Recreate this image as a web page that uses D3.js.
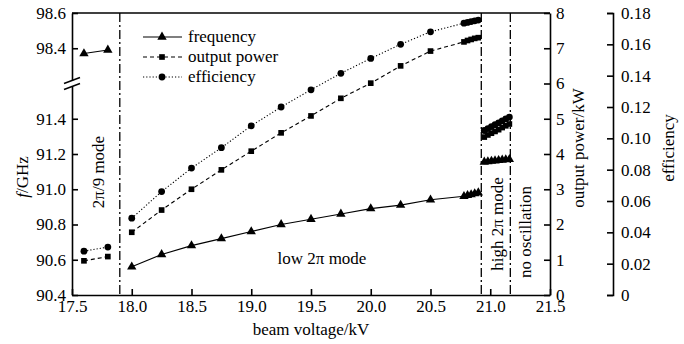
<!DOCTYPE html>
<html>
<head>
<meta charset="utf-8">
<script src="https://cdn.jsdelivr.net/npm/d3@7"></script>
<style>
  body { margin: 0; background: #fff; }
  text { font-family: "Liberation Serif", "DejaVu Serif", serif; fill: #000; }
</style>
</head>
<body>
<div id="chart"></div>
<script>
// beam voltage (kV) for each operating region
const vMode29 = [17.6, 17.8];
const vLow = [18.0, 18.25, 18.5, 18.75, 19.0, 19.25, 19.5, 19.75, 20.0, 20.25, 20.5, 20.78, 20.81, 20.84, 20.87, 20.9];
const vHigh = [20.95, 20.98, 21.01, 21.04, 21.07, 21.1, 21.13, 21.16];

// frequency (GHz)
const fMode29 = [98.37, 98.39];
const fLow = [90.56, 90.63, 90.68, 90.72, 90.76, 90.8, 90.83, 90.86, 90.89, 90.91, 90.94, 90.96, 90.965, 90.97, 90.975, 90.98];
const fHigh = [91.155, 91.157, 91.16, 91.162, 91.164, 91.166, 91.168, 91.17];

// output power (kW)
const pMode29 = [0.97, 1.09];
const pLow = [1.78, 2.41, 3.0, 3.55, 4.08, 4.6, 5.08, 5.58, 6.01, 6.5, 6.92, 7.18, 7.22, 7.25, 7.28, 7.3];
const pHigh = [4.48, 4.54, 4.59, 4.64, 4.69, 4.75, 4.8, 4.85];

// efficiency
const eMode29 = [0.028, 0.0306];
const eLow = [0.049, 0.066, 0.081, 0.094, 0.108, 0.12, 0.131, 0.1415, 0.151, 0.16, 0.168, 0.1735, 0.174, 0.1745, 0.175, 0.1755];
const eHigh = [0.105, 0.1062, 0.1075, 0.1087, 0.1099, 0.1112, 0.1124, 0.1136];

// region boundaries (kV)
const boundaries = [17.9, 20.925, 21.168];

const xTicks = [17.5, 18.0, 18.5, 19.0, 19.5, 20.0, 20.5, 21.0, 21.5];
const fTicks = [90.4, 90.6, 90.8, 91.0, 91.2, 91.4, 98.4, 98.6];
const pTicks = [0, 1, 2, 3, 4, 5, 6, 7, 8];
const eTicks = [0, 0.02, 0.04, 0.06, 0.08, 0.10, 0.12, 0.14, 0.16, 0.18];

const W = 684, H = 344;
const plotL = 72, plotR = 550, plotT = 13, plotB = 295;
const effX = 613;

const svg = d3.select('#chart').append('svg')
    .attr('width', W).attr('height', H);

const x = d3.scaleLinear().domain([17.5, 21.5]).range([plotL, plotR]);
// broken frequency axis: 91.6 and 98.2 meet at the break
const yF = d3.scaleLinear().domain([90.4, 91.6, 98.2, 98.6])
    .range([plotB, plotB - 6 * 35.25, plotB - 6 * 35.25, plotT]);
const yP = d3.scaleLinear().domain([0, 8]).range([plotB, plotT]);
const yE = d3.scaleLinear().domain([0, 0.18]).range([plotB, plotT]);

const fontSize = 17;

// region boundary lines
svg.append('g').selectAll('line')
    .data(boundaries)
    .join('line')
    .attr('x1', d => x(d)).attr('x2', d => x(d))
    .attr('y1', plotT).attr('y2', plotB)
    .attr('stroke', '#000').attr('stroke-width', 1.3)
    .attr('stroke-dasharray', '9,3,2,3');

// axes
const gx = svg.append('g')
    .attr('transform', `translate(0,${plotB})`)
    .call(d3.axisBottom(x).tickValues(xTicks).tickFormat(d3.format('.1f'))
        .tickSizeInner(-6).tickSizeOuter(0).tickPadding(5));

const gf = svg.append('g')
    .attr('transform', `translate(${plotL},0)`)
    .call(d3.axisLeft(yF).tickValues(fTicks).tickFormat(d3.format('.1f'))
        .tickSizeInner(-6).tickSizeOuter(0).tickPadding(6));

const gp = svg.append('g')
    .attr('transform', `translate(${plotR},0)`)
    .call(d3.axisRight(yP).tickValues(pTicks).tickFormat(d3.format('d'))
        .tickSizeInner(-6).tickSizeOuter(0).tickPadding(6));

const ge = svg.append('g')
    .attr('transform', `translate(${effX},0)`)
    .call(d3.axisRight(yE).tickValues(eTicks).tickFormat(d => d === 0 ? '0' : d3.format('.2f')(d))
        .tickSizeInner(-6).tickSizeOuter(-6).tickPadding(8));

[gx, gf, gp, ge].forEach(g => {
    g.selectAll('path, line').attr('stroke', '#000').attr('stroke-width', 1.6);
    g.selectAll('text').attr('font-size', fontSize).attr('font-family', null).attr('fill', '#000');
});

// top frame line
svg.append('line')
    .attr('x1', plotL).attr('x2', plotR).attr('y1', plotT).attr('y2', plotT)
    .attr('stroke', '#000').attr('stroke-width', 1.6);

// axis break marks
const breakY = yF(91.6);
svg.append('rect')
    .attr('x', plotL - 3).attr('y', breakY - 3).attr('width', 6).attr('height', 6)
    .attr('fill', '#fff');
[-3, 3].forEach(off => {
    svg.append('line')
        .attr('x1', plotL - 8).attr('x2', plotL + 8)
        .attr('y1', breakY + off + 3).attr('y2', breakY + off - 3)
        .attr('stroke', '#000').attr('stroke-width', 1.4);
});

// series
const series = [
    {v: [vMode29, vLow, vHigh], y: [fMode29, fLow, fHigh], scale: yF, dash: null, marker: 'tri'},
    {v: [vMode29, vLow, vHigh], y: [pMode29, pLow, pHigh], scale: yP, dash: '4,3', marker: 'sq'},
    {v: [vMode29, vLow, vHigh], y: [eMode29, eLow, eHigh], scale: yE, dash: '1.2,2', marker: 'circ'}
];

const markerPath = {
    tri: d3.symbol().type(d3.symbolTriangle).size(38),
    sq: d3.symbol().type(d3.symbolSquare).size(32),
    circ: d3.symbol().type(d3.symbolCircle).size(36)
};

const line = d3.line();

series.forEach(s => {
    const g = svg.append('g');
    s.v.forEach((vs, i) => {
        const pts = vs.map((v, j) => [x(v), s.scale(s.y[i][j])]);
        g.append('path')
            .attr('d', line(pts))
            .attr('fill', 'none').attr('stroke', '#000').attr('stroke-width', 1.1)
            .attr('stroke-dasharray', s.dash);
        g.selectAll(null)
            .data(pts)
            .join('path')
            .attr('transform', d => `translate(${d[0]},${d[1]})`)
            .attr('d', markerPath[s.marker]())
            .attr('fill', '#000');
    });
});

// legend
const legendItems = [
    {label: 'frequency', dash: null, marker: 'tri'},
    {label: 'output power', dash: '4,3', marker: 'sq'},
    {label: 'efficiency', dash: '1.2,2', marker: 'circ'}
];
const legend = svg.append('g');
legendItems.forEach((d, i) => {
    const ly = 37 + i * 20;
    legend.append('line')
        .attr('x1', 143).attr('x2', 182).attr('y1', ly).attr('y2', ly)
        .attr('stroke', '#000').attr('stroke-width', 1.1)
        .attr('stroke-dasharray', d.dash);
    legend.append('path')
        .attr('transform', `translate(162,${ly})`)
        .attr('d', markerPath[d.marker]())
        .attr('fill', '#000');
    legend.append('text')
        .attr('x', 188).attr('y', ly).attr('dy', '0.32em')
        .attr('font-size', fontSize)
        .text(d.label);
});

// region labels
svg.append('text')
    .attr('transform', 'translate(98,172) rotate(-90)')
    .attr('text-anchor', 'middle').attr('dy', '0.35em')
    .attr('font-size', fontSize)
    .text('2π/9 mode');

svg.append('text')
    .attr('x', 322).attr('y', 258).attr('dy', '0.35em')
    .attr('text-anchor', 'middle')
    .attr('font-size', fontSize)
    .text('low 2π mode');

svg.append('text')
    .attr('transform', 'translate(497,224) rotate(-90)')
    .attr('text-anchor', 'middle').attr('dy', '0.35em')
    .attr('font-size', fontSize)
    .text('high 2π mode');

svg.append('text')
    .attr('transform', 'translate(525,232) rotate(-90)')
    .attr('text-anchor', 'middle').attr('dy', '0.35em')
    .attr('font-size', fontSize)
    .text('no oscillation');

// axis titles
svg.append('text')
    .attr('x', (plotL + plotR) / 2).attr('y', 335)
    .attr('text-anchor', 'middle')
    .attr('font-size', fontSize)
    .text('beam voltage/kV');

const fTitle = svg.append('text')
    .attr('transform', 'translate(22,177) rotate(-90)')
    .attr('text-anchor', 'middle').attr('dy', '0.35em')
    .attr('font-size', fontSize);
fTitle.append('tspan').attr('font-style', 'italic').text('f');
fTitle.append('tspan').text('/GHz');

svg.append('text')
    .attr('transform', 'translate(578,148) rotate(-90)')
    .attr('text-anchor', 'middle').attr('dy', '0.35em')
    .attr('font-size', fontSize)
    .text('output power/kW');

svg.append('text')
    .attr('transform', 'translate(668,148) rotate(-90)')
    .attr('text-anchor', 'middle').attr('dy', '0.35em')
    .attr('font-size', fontSize)
    .text('efficiency');
</script>
</body>
</html>
